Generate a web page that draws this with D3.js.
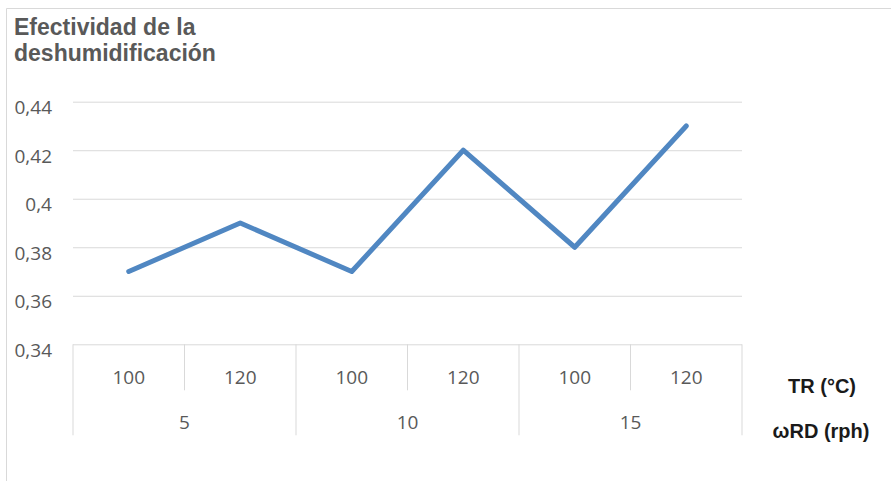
<!DOCTYPE html>
<html>
<head>
<meta charset="utf-8">
<script src="https://cdn.jsdelivr.net/npm/d3@7/dist/d3.min.js"></script>
<style>
  html, body { margin: 0; padding: 0; background: #fff; }
  svg { display: block; }
</style>
</head>
<body>
<svg id="chart" width="891" height="481"></svg>
<script>
// Deshumidification effectiveness by rotor speed (ωRD) and regeneration temperature (TR)
const groups = ["5", "10", "15"];            // ωRD (rph)
const temps = ["100", "120"];                 // TR (°C) within each group
const effectiveness = [0.37, 0.39, 0.37, 0.42, 0.38, 0.43];
const yTicks = [0.34, 0.36, 0.38, 0.40, 0.42, 0.44];

const categories = [];
groups.forEach(g => temps.forEach(t => categories.push({ g, t, key: g + "|" + t })));
const points = categories.map((c, i) => ({ ...c, v: effectiveness[i] }));

const W = 891, H = 481;
const plot = { left: 73, right: 742, top: 101.7, bottom: 344.3 };
const svg = d3.select("#chart");

const gridColor = "#d9d9d9";
const labelColor = "#595959";
const numFont = "'Open Sans', 'Liberation Sans', sans-serif";
const boldFont = "'Liberation Sans', Arial, Helvetica, sans-serif";

// Chart frame (top and left edges)
svg.append("line").attr("x1", 6.5).attr("x2", W).attr("y1", 8.5).attr("y2", 8.5)
  .attr("stroke", gridColor).attr("stroke-width", 1);
svg.append("line").attr("x1", 6.5).attr("x2", 6.5).attr("y1", 8.5).attr("y2", H)
  .attr("stroke", gridColor).attr("stroke-width", 1);

const x = d3.scaleBand().domain(categories.map(c => c.key))
  .range([plot.left, plot.right]).padding(0);
const y = d3.scaleLinear().domain([0.34, 0.44]).range([plot.bottom, plot.top]);

// Horizontal gridlines and y labels
const yAxis = d3.axisLeft(y).tickValues(yTicks)
  .tickFormat(d => d3.format(".2~f")(d).replace(".", ","))
  .tickSize(-(plot.right - plot.left)).tickPadding(21);
const gy = svg.append("g").attr("transform", `translate(${plot.left},0)`).call(yAxis);
gy.select(".domain").remove();
gy.selectAll(".tick line").attr("stroke", gridColor).attr("stroke-width", 1);
gy.selectAll(".tick text")
  .attr("fill", labelColor).attr("font-family", numFont).attr("font-size", 19)
  .attr("dy", "0.62em");

// Category axis: inner TR labels and outer ωRD group labels
const axisY = plot.bottom;
const innerTickLen = 46, outerTickLen = 91;
const bw = x.bandwidth();
const gx = svg.append("g");
const boundaries = d3.range(categories.length + 1).map(i => plot.left + i * bw);
boundaries.forEach((bx, i) => {
  const isGroupEdge = i % temps.length === 0;
  gx.append("line")
    .attr("x1", bx).attr("x2", bx)
    .attr("y1", axisY).attr("y2", axisY + (isGroupEdge ? outerTickLen : innerTickLen))
    .attr("stroke", gridColor).attr("stroke-width", 1);
});
gx.selectAll("text.tr").data(categories).join("text")
  .attr("class", "tr")
  .attr("x", d => x(d.key) + bw / 2).attr("y", 384)
  .attr("text-anchor", "middle")
  .attr("fill", labelColor).attr("font-family", numFont).attr("font-size", 19)
  .text(d => d.t);
gx.selectAll("text.grp").data(groups).join("text")
  .attr("class", "grp")
  .attr("x", g => x(g + "|" + temps[0]) + bw * temps.length / 2).attr("y", 429)
  .attr("text-anchor", "middle")
  .attr("fill", labelColor).attr("font-family", numFont).attr("font-size", 19)
  .text(g => g);

// Axis level names on the right
svg.append("text").attr("x", 822).attr("y", 393).attr("text-anchor", "middle")
  .attr("font-family", boldFont).attr("font-weight", "bold").attr("font-size", 20)
  .attr("fill", "#1a1a1a").text("TR (°C)");
svg.append("text").attr("x", 821).attr("y", 438).attr("text-anchor", "middle")
  .attr("font-family", boldFont).attr("font-weight", "bold").attr("font-size", 20)
  .attr("fill", "#1a1a1a").text("ωRD (rph)");

// Title
const title = svg.append("text").attr("font-family", boldFont).attr("font-weight", "bold")
  .attr("font-size", 23).attr("fill", labelColor);
title.append("tspan").attr("x", 14).attr("y", 35).text("Efectividad de la");
title.append("tspan").attr("x", 14).attr("y", 61).text("deshumidificación");

// Data line
const line = d3.line().x(d => x(d.key) + bw / 2).y(d => y(d.v));
svg.append("path").datum(points)
  .attr("d", line)
  .attr("fill", "none")
  .attr("stroke", "#5087c2")
  .attr("stroke-width", 5)
  .attr("stroke-linejoin", "round")
  .attr("stroke-linecap", "round");
</script>
</body>
</html>
